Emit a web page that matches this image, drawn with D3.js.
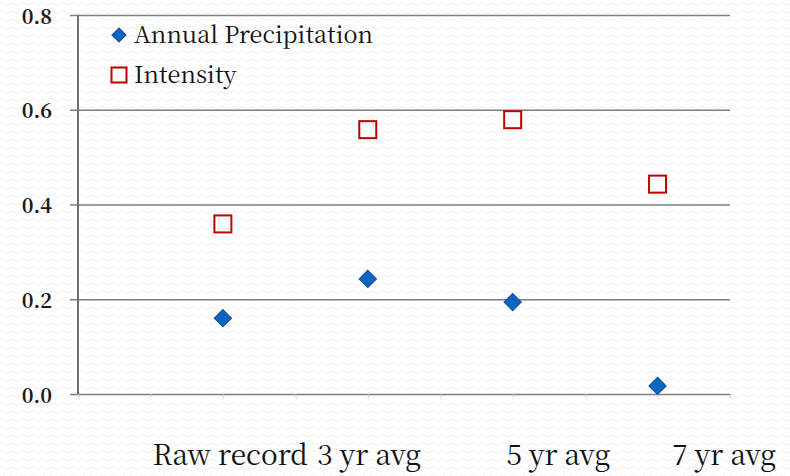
<!DOCTYPE html>
<html>
<head>
<meta charset="utf-8">
<script src="https://cdn.jsdelivr.net/npm/d3@7"></script>
<style>
  html, body { margin: 0; padding: 0; background: #ffffff; }
  svg { display: block; }
  svg text { font-family: 'Noto Serif CJK SC', 'Liberation Serif', serif; }
</style>
</head>
<body>
<svg id="chart" width="790" height="476"></svg>
<script>
// ---- data ----
const categories = ["Raw record", "3 yr avg", "5 yr avg", "7 yr avg"];
const categoryX = [2, 4, 6, 8];
const annualPrecipitation = [0.160, 0.243, 0.194, 0.017];
const intensity = [0.359, 0.558, 0.579, 0.443];
const yTicks = [0.0, 0.2, 0.4, 0.6, 0.8];
const xTicks = [0, 1, 2, 3, 4, 5, 6, 7, 8, 9];
const seriesNames = ["Annual Precipitation", "Intensity"];
// label anchor positions along the hidden numeric axis
const categoryLabelX = [2.1, 4.02, 6.63, 8.92];

const svg = d3.select("#chart");
const W = 790, H = 476;
const m = { left: 78, right: 60, top: 15, bottom: 82 };

// background wave pattern
const defs = svg.append("defs");
const pat = defs.append("pattern").attr("id", "wave")
  .attr("patternUnits", "userSpaceOnUse").attr("width", 10).attr("height", 8);
pat.append("rect").attr("width", 10).attr("height", 8).attr("fill", "#ffffff");
pat.append("path").attr("d", "M0,4 Q2.5,1 5,4 T10,4")
  .attr("fill", "none").attr("stroke", "#f1f1f1").attr("stroke-width", 1);
svg.append("rect").attr("width", W).attr("height", H).attr("fill", "url(#wave)");

const x = d3.scaleLinear().domain([0, 9]).range([m.left, W - m.right]);
const y = d3.scaleLinear().domain([0, 0.8]).range([H - m.bottom, m.top]);

// gridlines + y labels
const yAxis = d3.axisLeft(y).tickValues(yTicks).tickFormat(d3.format(".1f"))
  .tickSize(-(x(9) - x(0))).tickPadding(26);
const gy = svg.append("g").attr("transform", `translate(${m.left},0)`).call(yAxis);
gy.attr("font-family", null).attr("font-size", null);
gy.select(".domain").remove();
gy.selectAll(".tick line").attr("x1", -8).attr("stroke", "#7f7f7f").attr("stroke-width", 1.6);
gy.selectAll(".tick text")
  .attr("dy", "0.4em")
  .style("font-size", "20px").style("font-weight", "bold")
  .attr("fill", "#1a1a1a");

// y axis line
svg.append("line").attr("x1", m.left).attr("x2", m.left)
  .attr("y1", y(0.8)).attr("y2", y(0)).attr("stroke", "#6f6f6f").attr("stroke-width", 2);

// hidden-ish x axis ticks (tiny)
const xAxis = d3.axisBottom(x).tickValues(xTicks).tickSize(3).tickPadding(1);
const gx = svg.append("g").attr("transform", `translate(0,${y(0)})`).call(xAxis);
gx.attr("font-family", null).attr("font-size", null);
gx.select(".domain").remove();
gx.selectAll(".tick line").attr("stroke", "#c8c8c8").attr("stroke-width", 0.8);
gx.selectAll(".tick text").style("font-size", "3px").attr("fill", "#c0c0c0");

// intensity squares
const sq = 17;
svg.append("g").selectAll("rect").data(intensity).join("rect")
  .attr("x", (d, i) => x(categoryX[i]) - sq / 2)
  .attr("y", d => y(d) - sq / 2)
  .attr("width", sq).attr("height", sq)
  .attr("fill", "none").attr("stroke", "#c00000").attr("stroke-width", 2);

// annual precipitation diamonds
const diamond = d3.symbol().type(d3.symbolSquare).size(150);
svg.append("g").selectAll("path").data(annualPrecipitation).join("path")
  .attr("d", diamond)
  .attr("transform", (d, i) => `translate(${x(categoryX[i])},${y(d)}) rotate(45)`)
  .attr("fill", "#0f64c2").attr("stroke", "#0b4f9c").attr("stroke-width", 1);

// legend
const lg = svg.append("g");
lg.append("path").attr("d", d3.symbol().type(d3.symbolSquare).size(100))
  .attr("transform", "translate(119,35) rotate(45)")
  .attr("fill", "#0f64c2").attr("stroke", "#0b4f9c").attr("stroke-width", 1);
lg.append("text").attr("x", 134).attr("y", 43).text(seriesNames[0])
  .style("font-size", "23.5px").attr("fill", "#111");
lg.append("rect").attr("x", 111.5).attr("y", 67.5).attr("width", 15).attr("height", 15)
  .attr("fill", "none").attr("stroke", "#c00000").attr("stroke-width", 2);
lg.append("text").attr("x", 134).attr("y", 83).text(seriesNames[1])
  .style("font-size", "23.5px").attr("fill", "#111");

// category labels
svg.append("g").selectAll("text").data(categories).join("text")
  .attr("x", (d, i) => x(categoryLabelX[i]))
  .attr("y", 465)
  .attr("text-anchor", "middle")
  .style("font-size", "28px").attr("fill", "#111")
  .text(d => d);
</script>
</body>
</html>
